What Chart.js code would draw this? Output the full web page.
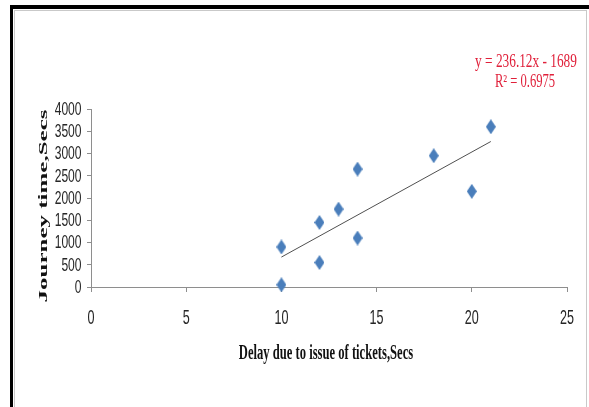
<!DOCTYPE html>
<html>
<head>
<meta charset="utf-8">
<script src="https://cdn.jsdelivr.net/npm/chart.js@4.4.1/dist/chart.umd.min.js"></script>
<style>
  html, body { margin: 0; padding: 0; background: #fff; overflow: hidden; }
  #c { display: block; }
</style>
</head>
<body>
<canvas id="c" width="589" height="407"></canvas>
<script>
// Delay while tickets are issued vs. total journey time (seconds)
const delaySecs   = [10, 10, 12, 12, 13, 14, 14, 18, 20, 21];
const journeySecs = [50, 900, 550, 1450, 1750, 1100, 2650, 2950, 2150, 3600];

// Linear trendline reported for the series
const trendSlope = 236.12;
const trendIntercept = -1689;
const rSquared = 0.6975;

// Axis ticks and titles
const xTickValues = [0, 5, 10, 15, 20, 25];
const yTickValues = [0, 500, 1000, 1500, 2000, 2500, 3000, 3500, 4000];
const xTitle = 'Delay due to issue of tickets,Secs';
const yTitle = 'Journey time,Secs';

const SERIF = '"Liberation Serif", "Times New Roman", serif';
const SANS = '"Liberation Sans", Arial, sans-serif';

function diamondMarker(w, h, color) {
  const c = document.createElement('canvas');
  c.width = w; c.height = h;
  const g = c.getContext('2d');
  g.fillStyle = color;
  g.beginPath();
  g.moveTo(w / 2, 0);
  g.lineTo(w, h / 2);
  g.lineTo(w / 2, h);
  g.lineTo(0, h / 2);
  g.closePath();
  g.fill();
  return c;
}

// Draw text with an independent horizontal / vertical scale (condensed look)
function drawText(ctx, text, x, y, o) {
  ctx.save();
  ctx.translate(x, y);
  if (o.rotate) ctx.rotate(o.rotate);
  ctx.scale(o.sx || 1, o.sy || 1);
  ctx.font = o.font;
  ctx.fillStyle = o.color || '#000';
  ctx.textAlign = o.align || 'center';
  ctx.textBaseline = o.baseline || 'middle';
  ctx.fillText(text, 0, 0);
  ctx.restore();
}

const xMin = Math.min(...delaySecs);
const xMax = Math.max(...delaySecs);
const trendPoints = [xMin, xMax].map(x => ({ x, y: trendSlope * x + trendIntercept }));
const points = delaySecs.map((x, i) => ({ x, y: journeySecs[i] }));

const frame = {
  id: 'frame',
  beforeDraw(chart) {
    const ctx = chart.ctx;
    const W = chart.width, H = chart.height;
    ctx.save();
    ctx.fillStyle = '#fff';
    ctx.fillRect(0, 0, W, H);
    // outer dark border (top and left)
    ctx.fillStyle = '#000';
    ctx.fillRect(10, 5, W - 10, 4);
    ctx.fillRect(10, 5, 3, H - 5);
    // inner light border
    ctx.strokeStyle = '#c9c9c9';
    ctx.lineWidth = 1;
    ctx.beginPath();
    ctx.moveTo(14, 10.5); ctx.lineTo(586, 10.5);
    ctx.moveTo(14.5, 10); ctx.lineTo(14.5, H);
    ctx.moveTo(586.5, 10); ctx.lineTo(586.5, H);
    ctx.stroke();
    ctx.restore();
  }
};

const labels = {
  id: 'labels',
  afterDraw(chart) {
    const ctx = chart.ctx;
    const xs = chart.scales.x, ys = chart.scales.y;
    xs.ticks.forEach(t => {
      drawText(ctx, String(t.value), xs.getPixelForValue(t.value), 318,
        { font: '21px ' + SANS, color: '#262626', sx: 0.6 });
    });
    ys.ticks.forEach(t => {
      drawText(ctx, String(t.value), 81.5, ys.getPixelForValue(t.value) + 1,
        { font: '18px ' + SANS, color: '#262626', align: 'right', sx: 0.67 });
    });
    // axis titles
    drawText(ctx, xTitle, 326, 359,
      { font: 'bold 21px ' + SERIF, color: '#111', baseline: 'alphabetic', sx: 0.6 });
    drawText(ctx, yTitle, 44, 206,
      { font: 'bold 21px ' + SERIF, color: '#111', rotate: -Math.PI / 2, sx: 1.19, sy: 0.62 });
    // trendline equation
    const sign = trendIntercept < 0 ? ' - ' : ' + ';
    const eq = 'y = ' + trendSlope + 'x' + sign + Math.abs(trendIntercept);
    const r2 = 'R\u00B2 = ' + rSquared;
    drawText(ctx, eq, 526, 67,
      { font: '18px ' + SERIF, color: '#e0203a', baseline: 'alphabetic', sx: 0.74 });
    drawText(ctx, r2, 525, 87,
      { font: '18px ' + SERIF, color: '#e0203a', baseline: 'alphabetic', sx: 0.7 });
  }
};

const axisColor = '#8e8e8e';

new Chart(document.getElementById('c'), {
  type: 'scatter',
  data: {
    datasets: [
      {
        label: 'Journey time',
        data: points,
        pointStyle: diamondMarker(10, 15, '#4a7ebb'),
        pointRadius: 6,
        clip: false,
        order: 0
      },
      {
        label: 'Linear trend',
        data: trendPoints,
        showLine: true,
        borderColor: '#505050',
        borderWidth: 1,
        pointRadius: 0,
        fill: false,
        clip: false,
        order: 1
      }
    ]
  },
  options: {
    responsive: false,
    animation: false,
    events: [],
    layout: { padding: { left: 0, right: 22, top: 109, bottom: 0 } },
    plugins: {
      legend: { display: false },
      tooltip: { enabled: false },
      title: { display: false }
    },
    scales: {
      x: {
        type: 'linear',
        min: 0, max: 25,
        afterBuildTicks(s) { s.ticks = xTickValues.map(v => ({ value: v })); },
        afterFit(s) { s.height = 120; },
        ticks: { display: false },
        grid: { drawOnChartArea: false, drawTicks: true, tickLength: 5, color: axisColor },
        border: { color: axisColor, width: 1 }
      },
      y: {
        type: 'linear',
        min: 0, max: 4000,
        afterBuildTicks(s) { s.ticks = yTickValues.map(v => ({ value: v })); },
        afterFit(s) { s.width = 91; },
        ticks: { display: false },
        grid: { drawOnChartArea: false, drawTicks: true, tickLength: 4, color: axisColor },
        border: { color: axisColor, width: 1 }
      }
    }
  },
  plugins: [frame, labels]
});
</script>
</body>
</html>
